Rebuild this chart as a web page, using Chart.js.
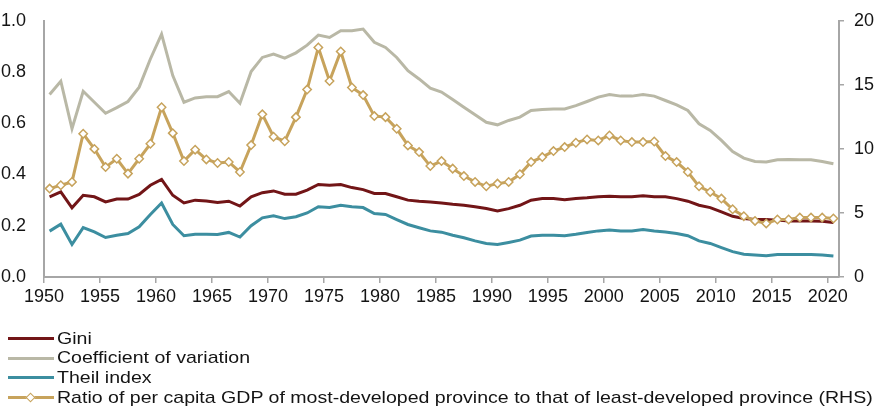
<!DOCTYPE html>
<html><head><meta charset="utf-8">
<script src="https://cdn.jsdelivr.net/npm/chart.js@4.4.1/dist/chart.umd.min.js"></script>
<style>
html,body{margin:0;padding:0;background:#fff;}
#wrap{position:relative;width:880px;height:410px;overflow:hidden;}
#legend{position:absolute;left:8px;top:329px;font-family:"Liberation Sans",Arial,sans-serif;font-size:17px;color:#141414;}
.row{height:19.6px;display:flex;align-items:center;white-space:nowrap;}
.sw{position:relative;width:46px;height:3px;margin-right:3px;flex:none;}
.dia{position:absolute;left:19px;top:-2.5px;width:5px;height:5px;background:#fff;border:1.5px solid #c7a35c;transform:rotate(45deg);}
.tx{display:inline-block;transform:scaleX(1.15);transform-origin:0 50%;}
</style></head>
<body>
<div id="wrap">
<canvas id="c" width="880" height="410"></canvas>
<div id="legend"></div>
</div>
<script>
const years = [1950,1951,1952,1953,1954,1955,1956,1957,1958,1959,
1960,1961,1962,1963,1964,1965,1966,1967,1968,1969,
1970,1971,1972,1973,1974,1975,1976,1977,1978,1979,
1980,1981,1982,1983,1984,1985,1986,1987,1988,1989,
1990,1991,1992,1993,1994,1995,1996,1997,1998,1999,
2000,2001,2002,2003,2004,2005,2006,2007,2008,2009,
2010,2011,2012,2013,2014,2015,2016,2017,2018,2019,2020];

const gini = [0.313,0.332,0.270,0.319,0.313,0.293,0.304,0.304,0.322,0.358,
0.381,0.319,0.289,0.300,0.297,0.291,0.296,0.277,0.313,0.329,
0.336,0.323,0.323,0.339,0.361,0.358,0.361,0.349,0.341,0.326,
0.326,0.313,0.300,0.296,0.293,0.289,0.284,0.280,0.274,0.267,
0.258,0.267,0.280,0.300,0.306,0.306,0.302,0.306,0.309,0.313,
0.315,0.313,0.313,0.317,0.313,0.313,0.306,0.296,0.280,0.271,
0.254,0.237,0.228,0.224,0.224,0.222,0.219,0.219,0.219,0.218,0.213];

const coefVar = [0.712,0.764,0.579,0.725,0.682,0.639,0.661,0.685,0.741,0.851,
0.948,0.786,0.682,0.699,0.704,0.704,0.724,0.678,0.802,0.857,
0.870,0.854,0.875,0.905,0.944,0.935,0.961,0.961,0.968,0.916,
0.896,0.857,0.805,0.773,0.737,0.722,0.693,0.663,0.633,0.604,
0.594,0.611,0.624,0.650,0.654,0.656,0.656,0.669,0.685,0.702,
0.712,0.706,0.706,0.712,0.706,0.689,0.672,0.650,0.598,0.572,
0.533,0.490,0.464,0.451,0.449,0.458,0.459,0.458,0.458,0.451,0.442];

const theil = [0.179,0.206,0.127,0.193,0.176,0.154,0.163,0.170,0.196,0.244,
0.289,0.205,0.161,0.167,0.167,0.166,0.174,0.156,0.200,0.231,
0.239,0.228,0.235,0.250,0.274,0.271,0.280,0.274,0.271,0.248,
0.244,0.224,0.205,0.192,0.180,0.175,0.163,0.153,0.141,0.131,
0.127,0.135,0.144,0.160,0.163,0.163,0.161,0.167,0.174,0.180,
0.183,0.180,0.180,0.185,0.180,0.176,0.170,0.161,0.141,0.131,
0.115,0.099,0.089,0.086,0.083,0.088,0.088,0.088,0.088,0.086,0.082];

const ratio = [6.90,7.16,7.42,11.18,10.0,8.58,9.23,8.07,9.23,10.4,
13.25,11.23,9.05,9.94,9.18,8.90,8.98,8.20,10.3,12.7,
10.95,10.6,12.48,14.63,17.92,15.3,17.61,14.79,14.2,12.56,
12.48,11.57,10.27,9.75,8.66,9.05,8.46,7.88,7.42,7.08,
7.29,7.42,8.02,8.97,9.36,9.83,10.14,10.48,10.74,10.66,
11.05,10.66,10.53,10.53,10.58,9.44,8.97,8.20,7.08,6.64,
6.12,5.29,4.75,4.38,4.18,4.49,4.49,4.64,4.64,4.64,4.57];

const xTicks = [1950,1955,1960,1965,1970,1975,1980,1985,1990,1995,2000,2005,2010,2015,2020];
const leftTicks = [0,0.2,0.4,0.6,0.8,1.0];
const rightTicks = [0,5,10,15,20];

const labels = ['Gini','Coefficient of variation','Theil index',
 'Ratio of per capita GDP of most-developed province to that of least-developed province (RHS)'];
const colors = ['#721517','#b9b8a6','#3c8ea0','#c7a35c'];

const font = {family:'"Liberation Sans", Arial, sans-serif', size:18};
const textColor = '#141414';
const axisColor = '#a6a6a6';
// each year occupies one category slot; the point sits in the middle of its slot
const pts = arr => years.map((yr,i)=>({x:yr+0.5, y:arr[i]}));

new Chart(document.getElementById('c'), {
  type:'line',
  data:{datasets:[
    {label:labels[0], data:pts(gini), borderColor:colors[0], borderWidth:3, pointRadius:0, yAxisID:'y', order:1, tension:0},
    {label:labels[1], data:pts(coefVar), borderColor:colors[1], borderWidth:3, pointRadius:0, yAxisID:'y', order:2, tension:0},
    {label:labels[2], data:pts(theil), borderColor:colors[2], borderWidth:3, pointRadius:0, yAxisID:'y', order:3, tension:0},
    {label:labels[3], data:pts(ratio), borderColor:colors[3], borderWidth:3, yAxisID:'y1', order:0, tension:0,
     pointStyle:'rectRot', pointRadius:4.2, pointBorderWidth:1.5, pointBackgroundColor:'#ffffff', pointBorderColor:colors[3]}
  ]},
  options:{
    responsive:false, animation:false,
    layout:{padding:{top:20,left:0,right:0,bottom:98}},
    plugins:{legend:{display:false}, tooltip:{enabled:false}},
    scales:{
      x:{type:'linear', min:1950, max:2021,
        afterBuildTicks:s=>{s.ticks = xTicks.map(v=>({value:v}));},
        ticks:{font, color:textColor, padding:3, maxRotation:0, autoSkip:false, callback:v=>String(v)},
        grid:{display:true, drawOnChartArea:false, drawTicks:true, tickLength:6, color:axisColor, lineWidth:1.5},
        border:{display:true, color:axisColor, width:2},
        afterFit:s=>{s.height=35;}},
      y:{position:'left', min:0, max:1,
        afterBuildTicks:s=>{s.ticks = leftTicks.map(v=>({value:v}));},
        ticks:{font, color:textColor, padding:10, callback:v=>Number(v).toFixed(1)},
        grid:{display:false},
        border:{display:true, color:axisColor, width:2},
        afterFit:s=>{s.width=44;}},
      y1:{position:'right', min:0, max:20,
        afterBuildTicks:s=>{s.ticks = rightTicks.map(v=>({value:v}));},
        ticks:{font, color:textColor, padding:10, callback:v=>String(v)},
        grid:{display:true, drawOnChartArea:false, drawTicks:true, tickLength:5, color:axisColor, lineWidth:1.5},
        border:{display:true, color:axisColor, width:2},
        afterFit:s=>{s.width=41;}}
    }
  }
});

const leg = document.getElementById('legend');
labels.forEach((t,i)=>{
  const row = document.createElement('div'); row.className='row';
  const sw = document.createElement('span'); sw.className='sw'; sw.style.background=colors[i];
  if(i===3){ const d=document.createElement('span'); d.className='dia'; sw.appendChild(d); }
  const tx = document.createElement('span'); tx.className='tx'; tx.textContent=t;
  row.appendChild(sw); row.appendChild(tx); leg.appendChild(row);
});
</script>
</body></html>
